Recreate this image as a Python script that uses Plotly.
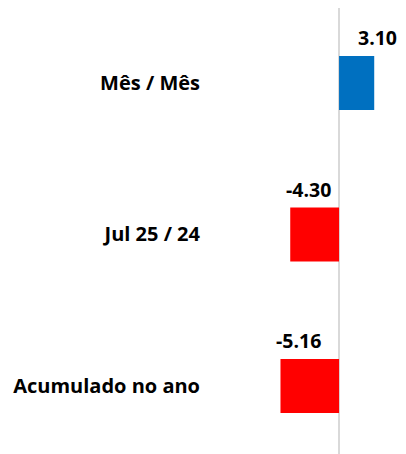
import plotly.graph_objects as go

categories = ["Mês / Mês", "Jul 25 / 24", "Acumulado no ano"]
values = [3.10, -4.30, -5.16]
colors = ["#0070C0", "#FF0000", "#FF0000"]
value_labels = ["3.10", "-4.30", "-5.16"]

FONT = "Open Sans"

fig = go.Figure(go.Bar(
    x=values, y=categories, orientation="h",
    marker=dict(color=colors, line=dict(width=0)),
    width=0.357,
    hoverinfo="skip",
))

for c, v, t in zip(categories, values, value_labels):
    fig.add_annotation(
        x=v, y=c, text=f"<b>{t}</b>", showarrow=False,
        xanchor="center", yanchor="middle",
        xshift=3 if v > 0 else 18, yshift=45,
        font=dict(family=FONT, size=19.5, color="#000000"),
    )

fig.update_layout(
    width=398, height=446,
    margin=dict(l=202, r=0, t=0, b=0),
    paper_bgcolor="white", plot_bgcolor="white",
    showlegend=False,
    xaxis=dict(range=[-11.37, 5.9], showgrid=False, showticklabels=False,
               zeroline=True, zerolinecolor="#D9D9D9", zerolinewidth=2,
               fixedrange=True),
    yaxis=dict(range=[2.449, -0.495], showgrid=False, zeroline=False,
               tickfont=dict(family=FONT, size=20, color="#000000"),
               ticklabelstandoff=9, ticks="", fixedrange=True,
               type="category"),
)
fig.update_yaxes(tickvals=categories, ticktext=[f"<b>{c}</b>" for c in categories])

fig.write_html("out.html")
